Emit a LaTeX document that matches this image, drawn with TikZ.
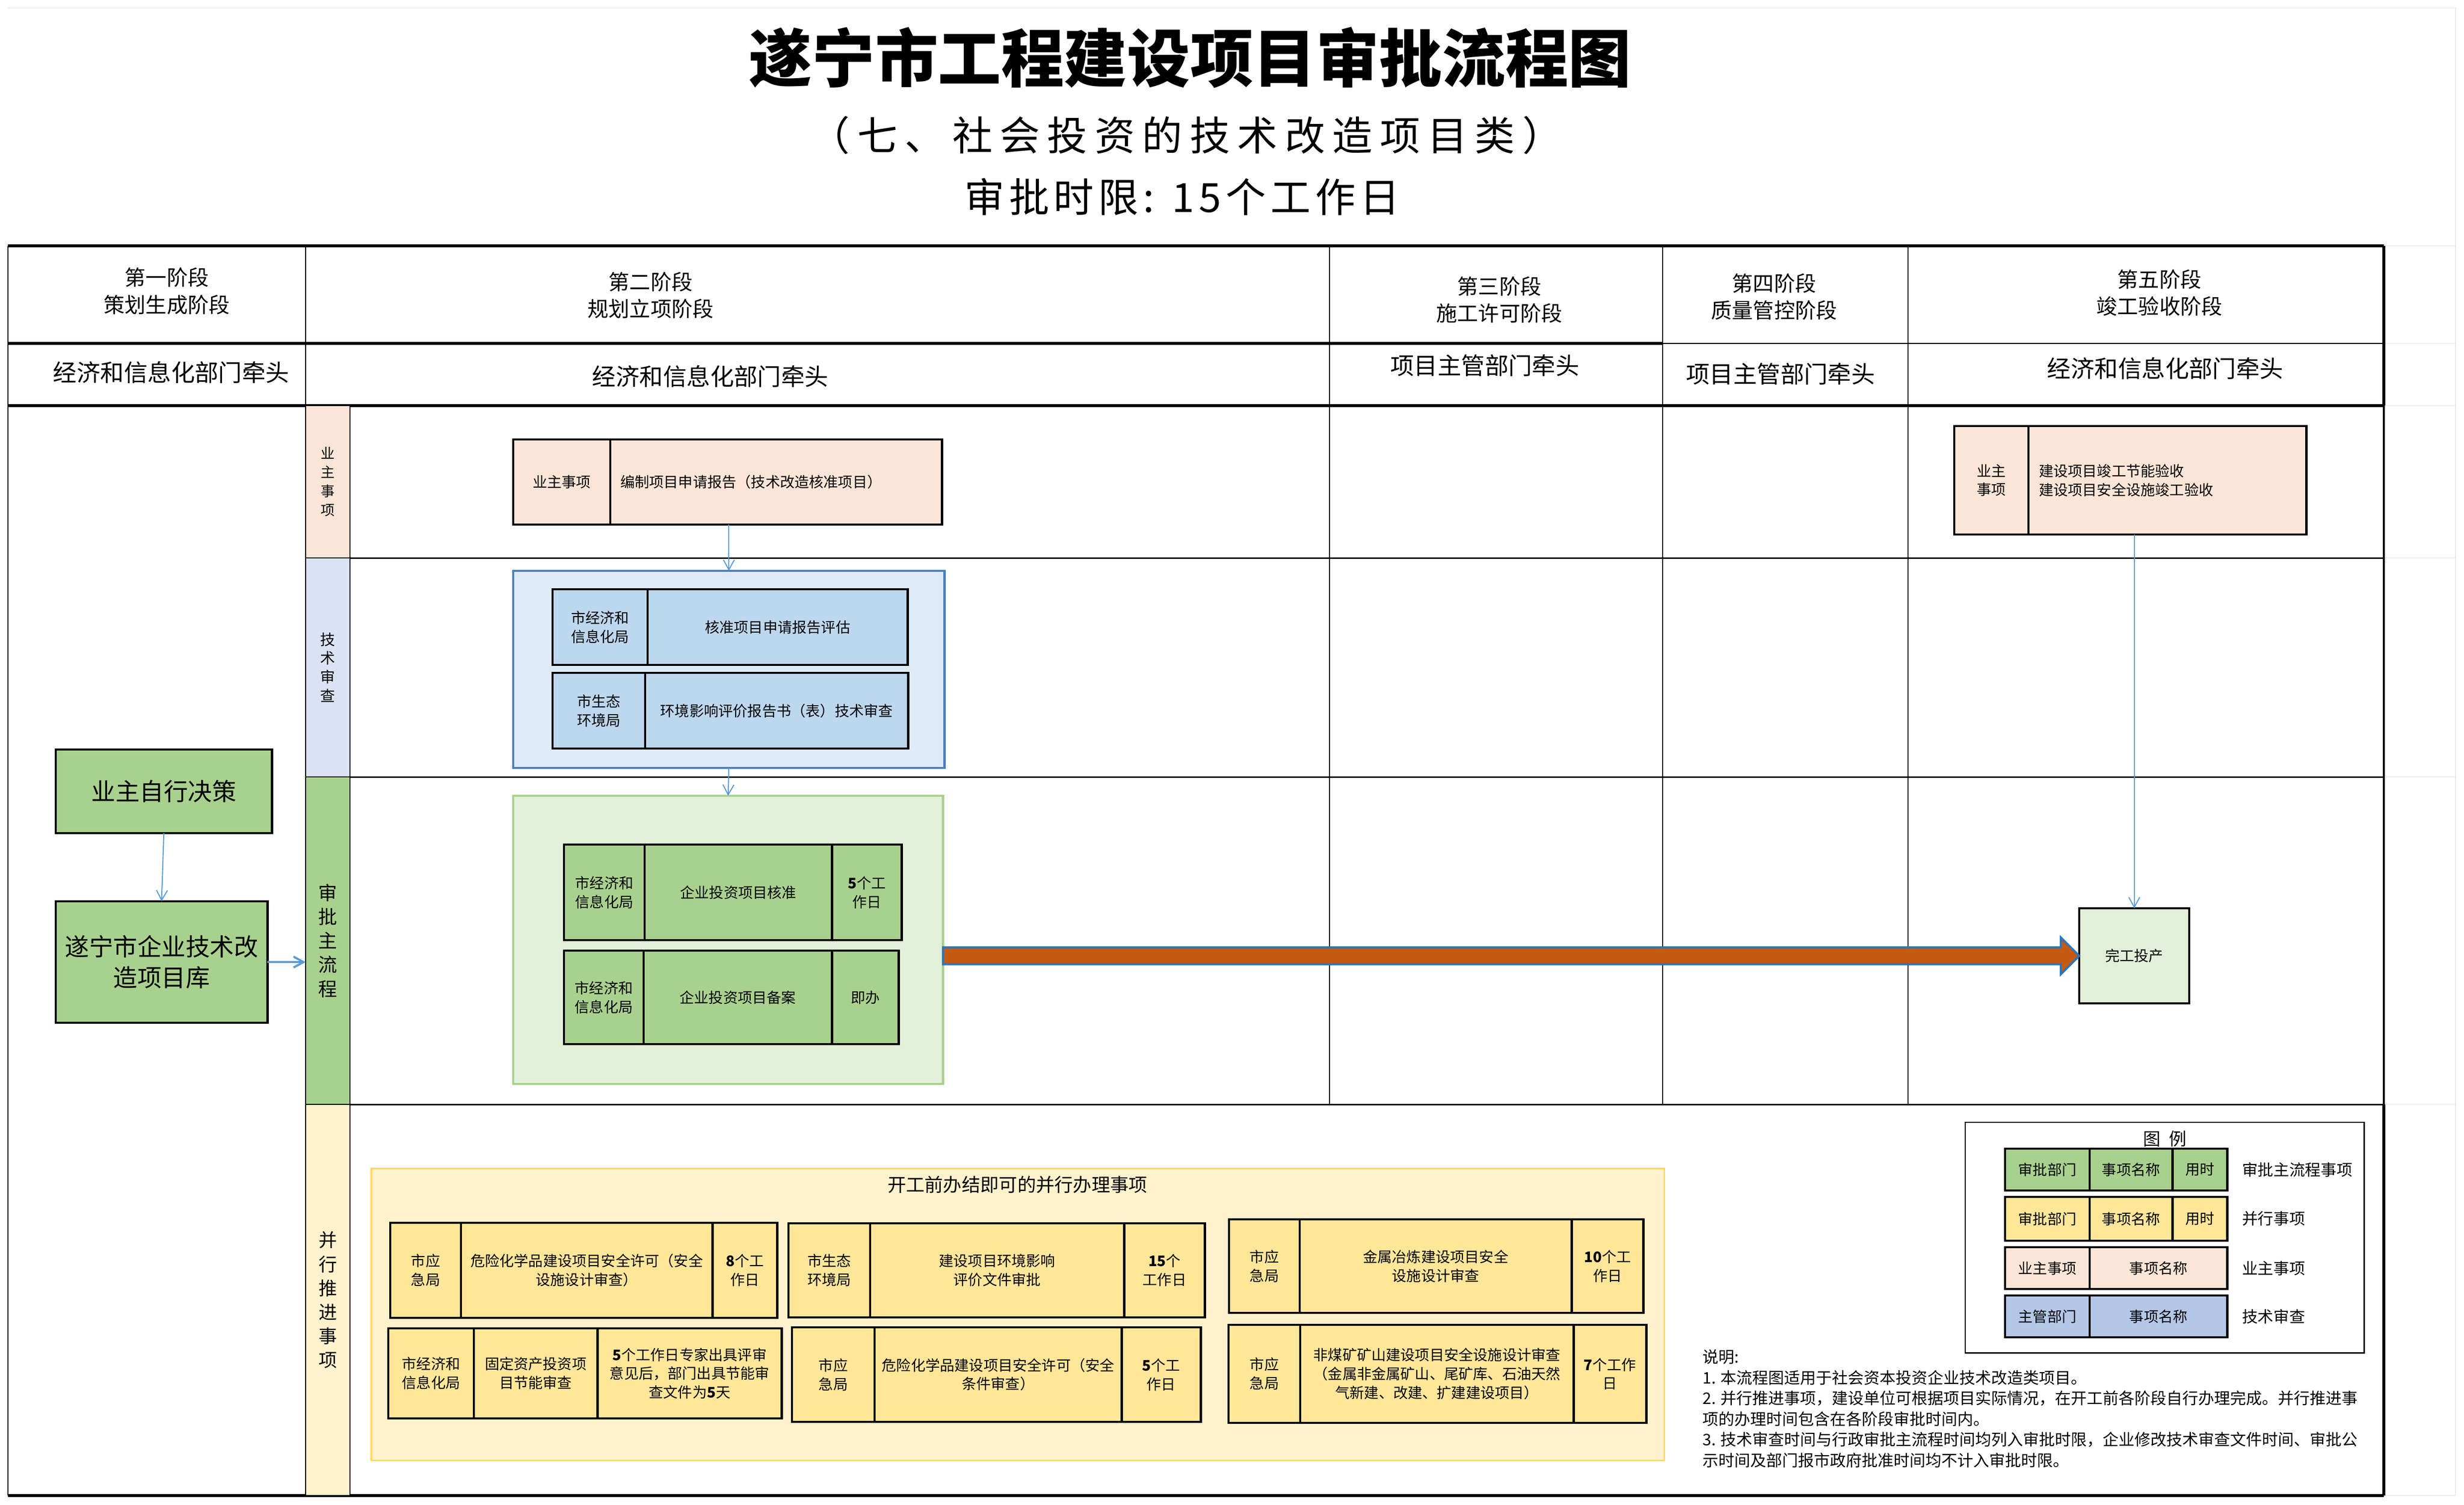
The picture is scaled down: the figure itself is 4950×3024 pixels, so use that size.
\documentclass[tikz,border=0pt]{standalone}
\usepackage{fontspec}
\setmainfont{Noto Sans CJK SC}
\usetikzlibrary{arrows.meta,positioning,calc}
\definecolor{peach}{HTML}{FBE5D6}
\definecolor{lanebl}{HTML}{DAE3F3}
\definecolor{techbg}{HTML}{DEEBF7}
\definecolor{techbd}{HTML}{4A7EBB}
\definecolor{techcell}{HTML}{BDD7EE}
\definecolor{legbl}{HTML}{B4C7E7}
\definecolor{mgreen}{HTML}{A9D18E}
\definecolor{mainbg}{HTML}{E2F0D9}
\definecolor{pyel}{HTML}{FFF2CC}
\definecolor{pyelbd}{HTML}{FFD966}
\definecolor{pcell}{HTML}{FFE699}
\definecolor{bigarr}{HTML}{C55A11}
\definecolor{bigarrbd}{HTML}{2E75B6}
\definecolor{flowbl}{HTML}{5B9BD5}
\newcommand\setfs[2]{\fontsize{#1}{#2}\selectfont}

\begin{document}
\begin{tikzpicture}
	[x=0.01cm, y=-0.01cm, inner sep=1pt,
	cell/.style	= {draw, line width=1.3pt, outer sep=0pt, align=center, font=\setfs{8.3}{10.7}},
	owner/.style	= {cell, fill=peach},
	techc/.style	= {cell, fill=techcell},
	mainc/.style	= {cell, fill=mgreen},
	parc/.style	= {cell, fill=pcell},
	lane/.style	= {draw, line width=0.8pt, outer sep=0pt, anchor=north west, minimum width=0.89cm, align=center},
	group/.style	= {rectangle, line width=1.2pt, outer sep=0pt, anchor=north west},
	big/.style	= {draw, line width=1.3pt, outer sep=0pt, anchor=north west, fill=mgreen, align=center, font=\setfs{13.8}{17.6}},
	head/.style	= {align=center, font=\setfs{12}{15.4}},
	lead/.style	= {font=\setfs{13.5}{16}},
	key/.style	= {anchor=west, font=\setfs{9}{11}},
	flow/.style	= {-{Straight Barb[length=2mm, width=2.2mm]}, draw=flowbl, line width=0.6pt},
	bigarrow/.style	= {fill=bigarr, draw=bigarrbd, line width=1.2pt, line join=miter},
	tline/.style	= {line width=1.6pt},
	tmid/.style	= {line width=1pt},
	tthin/.style	= {line width=0.6pt},
	laneline/.style	= {line width=0.8pt},
	gridl/.style	= {draw=gray!15, line width=0.6pt}]

	\useasboundingbox (0,0) rectangle (4950,3024);

	% spreadsheet grid
	\draw[gridl] (16,16) -- (4933,16) -- (4933,3005);
	\foreach \y in {494,690,815,1121,1561,2219,3005}
		\draw[gridl] (4789,\y) -- (4933,\y);

	% titles
	\node at (2391,116)	[font=\setfs{36}{40}\bfseries]	(title)	{遂宁市工程建设项目审批流程图};
	\node at (2383,272)	[font=\setfs{23}{26}\addfontfeature{LetterSpace=18}]	(subtitle)	{（七、社会投资的技术改造项目类）};
	\node at (2375,395)	[font=\setfs{23}{26}\addfontfeature{LetterSpace=11}]	(limit)	{审批时限: 15个工作日};

	% table
	\coordinate (rb) at (4789,0);
	\draw[tline] (16,494) -- (4789,494);
	\draw[tline] (16,690) -- (3340,690);
	\draw[tthin] (3340,690) -- (4789,690);
	\draw[tline] (16,815) -- (4789,815);
	\draw[tline] (16,3005) -- (4789,3005);
	\draw[tthin] (16,494) -- (16,3005);
	\draw[tline] (4789,494) -- (4789,815);
	\draw[tmid] (4789,815) -- (4789,2219);
	\draw[tline] (4789,2219) -- (4789,3005);
	\foreach \x in {614,2671,3340,3833}
		\draw[tthin] (\x,494) -- (\x,815);
	\foreach \x in {2671,3340,3833}
		\draw[tthin] (\x,815) -- (\x,2219);

	\node at (335,585)	[head]	(ph1)	{第一阶段\\策划生成阶段};
	\node at (1307,593)	[head]	(ph2)	{第二阶段\\规划立项阶段};
	\node at (3012,602)	[head]	(ph3)	{第三阶段\\施工许可阶段};
	\node at (3564,596)	[head]	(ph4)	{第四阶段\\质量管控阶段};
	\node at (4338,588)	[head]	(ph5)	{第五阶段\\竣工验收阶段};

	\node at (344,748)	[lead]	(lead1)	{经济和信息化部门牵头};
	\node at (1427,756)	[lead]	(lead2)	{经济和信息化部门牵头};
	\node at (2983,734)	[lead]	(lead3)	{项目主管部门牵头};
	\node at (3577,751)	[lead]	(lead4)	{项目主管部门牵头};
	\node at (4350,740)	[lead]	(lead5)	{经济和信息化部门牵头};

	% lanes
	\node at (614,815)	[lane, fill=peach, minimum height=3.06cm, font=\setfs{8}{10.8}]	(lane1)	{业\\主\\事\\项};
	\node at (614,1121)	[lane, fill=lanebl, minimum height=4.40cm, font=\setfs{8.5}{10.8}]	(lane2)	{技\\术\\审\\查};
	\node at (614,1561)	[lane, fill=mgreen, minimum height=6.58cm, font=\setfs{10.8}{13.7}]	(lane3)	{审\\批\\主\\流\\程};
	\node at (614,2219)	[lane, fill=pyel, minimum height=7.86cm, font=\setfs{10.5}{13.7}]	(lane4)	{并\\行\\推\\进\\事\\项};
	\draw[laneline] (lane1.south east) -- (lane1.south east -| rb);
	\draw[laneline] (lane2.south east) -- (lane2.south east -| rb);
	\draw[laneline] (lane3.south east) -- (lane3.south east -| rb);

	% first stage
	\node at (112,1506)	[big, minimum width=4.34cm, minimum height=1.68cm]	(decide)	{业主自行决策};
	\node at (112,1811)	[big, minimum width=4.25cm, minimum height=2.44cm]	(lib)	{遂宁市企业技术改\\造项目库};

	% owner item
	\node at (1031,883)	[owner, anchor=north west, minimum width=1.95cm, minimum height=1.71cm]	(own1d)	{业主事项};
	\node [owner, right=0pt of own1d, minimum height=1.71cm, text width=6.26cm, inner xsep=0.2cm, align=left]	(own1n)	{编制项目申请报告（技术改造核准项目）};

	% technical review
	\node at (1031,1147)	[group, fill=techbg, draw=techbd, minimum width=8.66cm, minimum height=3.96cm]	(tech)	{};
	\node at (1110,1184)	[techc, anchor=north west, minimum width=1.91cm, minimum height=1.52cm]	(t1d)	{市经济和\\信息化局};
	\node [techc, right=0pt of t1d, minimum width=5.22cm, minimum height=1.52cm]	(t1n)	{核准项目申请报告评估};
	\node at (1110,1352)	[techc, anchor=north west, minimum width=1.86cm, minimum height=1.52cm]	(t2d)	{市生态\\环境局};
	\node [techc, right=0pt of t2d, minimum width=5.28cm, minimum height=1.52cm]	(t2n)	{环境影响评价报告书（表）技术审查};

	% main process
	\node at (1031,1599)	[group, fill=mainbg, draw=mgreen, minimum width=8.63cm, minimum height=5.79cm]	(main)	{};
	\node at (1133,1697)	[mainc, anchor=north west, minimum width=1.62cm, minimum height=1.92cm]	(m1d)	{市经济和\\信息化局};
	\node [mainc, right=0pt of m1d, minimum width=3.76cm, minimum height=1.92cm]	(m1n)	{企业投资项目核准};
	\node [mainc, right=0pt of m1n, minimum width=1.40cm, minimum height=1.92cm]	(m1t)	{\textbf{5}个工\\作日};
	\node at (1133,1910)	[mainc, anchor=north west, minimum width=1.60cm, minimum height=1.88cm]	(m2d)	{市经济和\\信息化局};
	\node [mainc, right=0pt of m2d, minimum width=3.78cm, minimum height=1.88cm]	(m2n)	{企业投资项目备案};
	\node [mainc, right=0pt of m2n, minimum width=1.34cm, minimum height=1.88cm]	(m2t)	{即办};

	% acceptance
	\node at (3926,856)	[owner, anchor=north west, minimum width=1.49cm, minimum height=2.18cm]	(a1d)	{业主\\事项};
	\node [owner, right=0pt of a1d, minimum height=2.18cm, text width=5.16cm, inner xsep=0.21cm, align=left]	(a1n)	{建设项目竣工节能验收\\建设项目安全设施竣工验收};
	\node at (4177,1825)	[cell, anchor=north west, fill=mainbg, minimum width=2.21cm, minimum height=1.91cm]	(done)	{完工投产};

	% parallel items
	\node at (746,2348)	[group, fill=pyel, draw=pyelbd, line width=1pt, minimum width=25.96cm, minimum height=5.86cm]	(par)	{};
	\node at (2044,2380)	[font=\setfs{10.6}{13}]	(partitle)	{开工前办结即可的并行办理事项};

	\node at (784,2457)	[parc, anchor=north west, minimum width=1.42cm, minimum height=1.91cm]	(pAd)	{市应\\急局};
	\node [parc, right=0pt of pAd, minimum width=5.05cm, minimum height=1.91cm]	(pAn)	{危险化学品建设项目安全许可（安全\\设施设计审查）};
	\node [parc, right=0pt of pAn, minimum width=1.30cm, minimum height=1.91cm]	(pAt)	{\textbf{8}个工\\作日};

	\node at (1584,2458)	[parc, anchor=north west, minimum width=1.64cm, minimum height=1.89cm]	(pBd)	{市生态\\环境局};
	\node [parc, right=0pt of pBd, minimum width=5.10cm, minimum height=1.89cm]	(pBn)	{建设项目环境影响\\评价文件审批};
	\node [parc, right=0pt of pBn, minimum width=1.62cm, minimum height=1.89cm]	(pBt)	{\textbf{15}个\\工作日};

	\node at (2469,2450)	[parc, anchor=north west, minimum width=1.42cm, minimum height=1.88cm]	(pCd)	{市应\\急局};
	\node [parc, right=0pt of pCd, minimum width=5.46cm, minimum height=1.88cm]	(pCn)	{金属冶炼建设项目安全\\设施设计审查};
	\node [parc, right=0pt of pCn, minimum width=1.44cm, minimum height=1.88cm]	(pCt)	{\textbf{10}个工\\作日};

	\node at (780,2669)	[parc, anchor=north west, minimum width=1.72cm, minimum height=1.81cm]	(pDd)	{市经济和\\信息化局};
	\node [parc, right=0pt of pDd, minimum width=2.48cm, minimum height=1.81cm]	(pDn)	{固定资产投资项\\目节能审查};
	\node [parc, right=0pt of pDn, minimum width=3.70cm, minimum height=1.81cm]	(pDt)	{\textbf{5}个工作日专家出具评审\\意见后，部门出具节能审\\查文件为\textbf{5}天};

	\node at (1591,2667)	[parc, anchor=north west, minimum width=1.66cm, minimum height=1.90cm]	(pEd)	{市应\\急局};
	\node [parc, right=0pt of pEd, minimum width=4.96cm, minimum height=1.90cm]	(pEn)	{危险化学品建设项目安全许可（安全\\条件审查）};
	\node [parc, right=0pt of pEn, minimum width=1.59cm, minimum height=1.90cm]	(pEt)	{\textbf{5}个工\\作日};

	\node at (2468,2662)	[parc, anchor=north west, minimum width=1.44cm, minimum height=1.97cm]	(pFd)	{市应\\急局};
	\node [parc, right=0pt of pFd, minimum width=5.49cm, minimum height=1.97cm]	(pFn)	{非煤矿矿山建设项目安全设施设计审查\\（金属非金属矿山、尾矿库、石油天然\\气新建、改建、扩建建设项目）};
	\node [parc, right=0pt of pFn, minimum width=1.46cm, minimum height=1.97cm]	(pFt)	{\textbf{7}个工作\\日};

	% legend
	\node at (3948,2255)	[group, draw, line width=0.8pt, minimum width=8.01cm, minimum height=4.63cm]	(leg)	{};
	\node at (4349,2288)	[font=\setfs{10}{12}]	(legtitle)	{图\enspace 例};
	\node at (4028,2308)	[mainc, anchor=north west, minimum width=1.70cm, minimum height=0.84cm]	(l1a)	{审批部门};
	\node [mainc, right=0pt of l1a, minimum width=1.66cm, minimum height=0.84cm]	(l1b)	{事项名称};
	\node [mainc, right=0pt of l1b, minimum width=1.10cm, minimum height=0.84cm]	(l1c)	{用时};
	\node at (4028,2405)	[parc, anchor=north west, minimum width=1.70cm, minimum height=0.88cm]	(l2a)	{审批部门};
	\node [parc, right=0pt of l2a, minimum width=1.66cm, minimum height=0.88cm]	(l2b)	{事项名称};
	\node [parc, right=0pt of l2b, minimum width=1.10cm, minimum height=0.88cm]	(l2c)	{用时};
	\node at (4028,2506)	[owner, anchor=north west, minimum width=1.70cm, minimum height=0.84cm]	(l3a)	{业主事项};
	\node [owner, right=0pt of l3a, minimum width=2.76cm, minimum height=0.84cm]	(l3b)	{事项名称};
	\node at (4028,2603)	[cell, fill=legbl, anchor=north west, minimum width=1.70cm, minimum height=0.84cm]	(l4a)	{主管部门};
	\node [cell, fill=legbl, right=0pt of l4a, minimum width=2.76cm, minimum height=0.84cm]	(l4b)	{事项名称};
	\node at (4500,2350)	[key]	(k1)	{审批主流程事项};
	\node at (4500,2449)	[key]	(k2)	{并行事项};
	\node at (4500,2548)	[key]	(k3)	{业主事项};
	\node at (4500,2645)	[key]	(k4)	{技术审查};

	% notes
	\node at (3420,2711)	[anchor=north west, inner sep=0pt, align=left, font=\setfs{9.1}{11.8}]	(notes)	{说明:\\1. 本流程图适用于社会资本投资企业技术改造类项目。\\2. 并行推进事项，建设单位可根据项目实际情况，在开工前各阶段自行办理完成。并行推进事\\项的办理时间包含在各阶段审批时间内。\\3. 技术审查时间与行政审批主流程时间均列入审批时限，企业修改技术审查文件时间、审批公\\示时间及部门报市政府批准时间均不计入审批时限。};

	% connectors
	\draw[flow] (decide.south) -- (lib.north);
	\draw[flow, line width=1.2pt] (lib.east) -- (lib.east -| lane3.west);
	\draw[flow] (own1n.south -| tech.north) -- (tech.north);
	\draw[flow] (tech.south) -- (main.north);
	\draw[flow] (a1n.south -| done.north) -- (done.north);
	\coordinate (bs) at (main.east |- done.west);
	\filldraw[bigarrow] ($(bs)+(0,-17)$) -- ($(done.west)+(-37,-17)$) -- ($(done.west)+(-37,-37)$) -- (done.west)
		-- ($(done.west)+(-37,37)$) -- ($(done.west)+(-37,17)$) -- ($(bs)+(0,17)$) -- cycle;
\end{tikzpicture}
\end{document}
